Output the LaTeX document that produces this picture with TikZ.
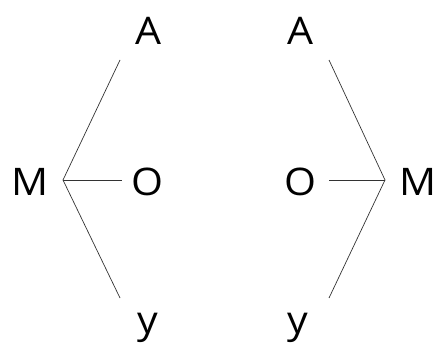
\documentclass[tikz,border=0pt]{standalone}
\usepackage{fontspec}
\setmainfont{Open Sans}
\begin{document}
\begin{tikzpicture}[x=1pt,y=-1pt,
  lbl/.style={inner sep=0pt,anchor=base,font=\fontsize{38}{42}\selectfont},
  conn/.style={draw=black!80,line width=0.7pt}]
\useasboundingbox (0,0) rectangle (438,347);
% left tree
\node[lbl,xscale=1.08] (M1) at (30,195) {М};
\node[lbl,xscale=1.08] (A1) at (148,45) {А};
\node[lbl,xscale=1.08] (O1) at (147,195) {О};
\node[lbl,xscale=1.08] (Y1) at (148,333) {у};
\coordinate (v1) at (63,180);
\coordinate (a1) at (120,60);
\coordinate (o1) at (122,180);
\coordinate (y1) at (120,298);
\draw[conn] (v1) -- (a1);
\draw[conn] (v1) -- (o1);
\draw[conn] (v1) -- (y1);
% right tree
\node[lbl,xscale=1.08] (M2) at (418,195) {М};
\node[lbl,xscale=1.08] (A2) at (300,45) {А};
\node[lbl,xscale=1.08] (O2) at (300,195) {О};
\node[lbl,xscale=1.08] (Y2) at (298,333) {у};
\coordinate (v2) at (385,180);
\coordinate (a2) at (329,60);
\coordinate (o2) at (329,180);
\coordinate (y2) at (329,298);
\draw[conn] (v2) -- (a2);
\draw[conn] (v2) -- (o2);
\draw[conn] (v2) -- (y2);
\end{tikzpicture}
\end{document}
